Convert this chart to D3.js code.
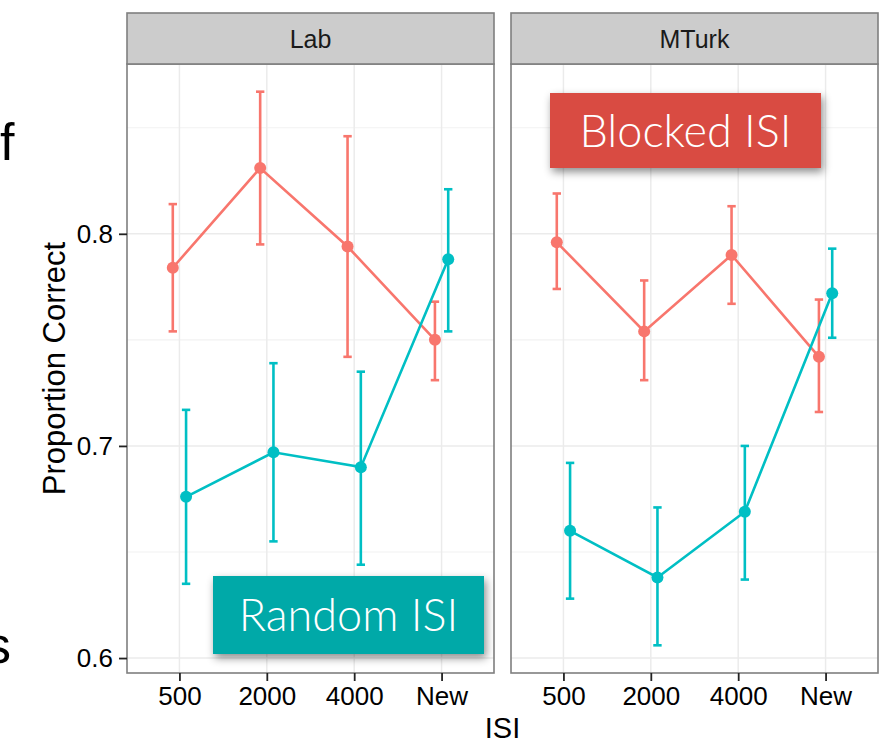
<!DOCTYPE html>
<html>
<head>
<meta charset="utf-8">
<script src="https://cdn.jsdelivr.net/npm/d3@7"></script>
<style>
  body { margin: 0; background: #fff; }
  svg text { font-family: "Liberation Sans", Arial, sans-serif; }
</style>
</head>
<body>
<script>
// categories
const isiLevels = ["500", "2000", "4000", "New"];
const facets = ["Lab", "MTurk"];
const conditions = ["Blocked", "Random"];

// means and error bar ends, one array per facet/condition
const labBlockedMean = [0.784, 0.831, 0.794, 0.750];
const labBlockedLow = [0.754, 0.795, 0.742, 0.731];
const labBlockedHigh = [0.814, 0.867, 0.846, 0.768];
const labRandomMean = [0.676, 0.697, 0.690, 0.788];
const labRandomLow = [0.635, 0.655, 0.644, 0.754];
const labRandomHigh = [0.717, 0.739, 0.735, 0.821];

const mturkBlockedMean = [0.796, 0.754, 0.790, 0.742];
const mturkBlockedLow = [0.774, 0.731, 0.767, 0.716];
const mturkBlockedHigh = [0.819, 0.778, 0.813, 0.769];
const mturkRandomMean = [0.660, 0.638, 0.669, 0.772];
const mturkRandomLow = [0.628, 0.606, 0.637, 0.751];
const mturkRandomHigh = [0.692, 0.671, 0.700, 0.793];

const yTicks = [0.6, 0.7, 0.8];
const yMinor = [0.65, 0.75, 0.85];

const colors = { Blocked: "#F8766D", Random: "#00BFC4" };

const W = 894, H = 745;
const panelTop = 64, panelBottom = 673, stripTop = 13;
const panelW = 367;
const panelLefts = [127, 511];

const build = (mean, lo, hi) => isiLevels.map((k, i) => ({ isi: k, mean: mean[i], lo: lo[i], hi: hi[i] }));
const data = {
  Lab: { Blocked: build(labBlockedMean, labBlockedLow, labBlockedHigh),
         Random: build(labRandomMean, labRandomLow, labRandomHigh) },
  MTurk: { Blocked: build(mturkBlockedMean, mturkBlockedLow, mturkBlockedHigh),
           Random: build(mturkRandomMean, mturkRandomLow, mturkRandomHigh) }
};

// y domain like ggplot: data range expanded by 5%
const allLo = d3.min([labBlockedLow, labRandomLow, mturkBlockedLow, mturkRandomLow].flat());
const allHi = d3.max([labBlockedHigh, labRandomHigh, mturkBlockedHigh, mturkRandomHigh].flat());
const pad = (allHi - allLo) * 0.05;
const y = d3.scaleLinear().domain([allLo - pad, allHi + pad]).range([panelBottom, panelTop]);

const svg = d3.select("body").append("svg")
  .attr("width", W).attr("height", H);

const defs = svg.append("defs");
const shadow = defs.append("filter").attr("id", "shadow")
  .attr("x", "-10%").attr("y", "-20%").attr("width", "130%").attr("height", "160%");
shadow.append("feDropShadow")
  .attr("dx", 2).attr("dy", 4).attr("stdDeviation", 4)
  .attr("flood-color", "#000").attr("flood-opacity", 0.45);

facets.forEach((facet, fi) => {
  const x0 = panelLefts[fi];
  const x = d3.scalePoint().domain(isiLevels).range([x0, x0 + panelW]).padding(0.6);
  const step = x.step();
  const dodge = { Blocked: -0.076 * step, Random: 0.076 * step };
  const capHalf = 0.048 * step;

  const g = svg.append("g");

  // minor grid
  g.selectAll(".minor").data(yMinor).enter().append("line")
    .attr("x1", x0).attr("x2", x0 + panelW)
    .attr("y1", d => y(d)).attr("y2", d => y(d))
    .attr("stroke", "#F2F2F2").attr("stroke-width", 1.2);
  // major grid
  g.selectAll(".majorY").data(yTicks).enter().append("line")
    .attr("x1", x0).attr("x2", x0 + panelW)
    .attr("y1", d => y(d)).attr("y2", d => y(d))
    .attr("stroke", "#EBEBEB").attr("stroke-width", 1.5);
  g.selectAll(".majorX").data(isiLevels).enter().append("line")
    .attr("x1", d => x(d)).attr("x2", d => x(d))
    .attr("y1", panelTop).attr("y2", panelBottom)
    .attr("stroke", "#EBEBEB").attr("stroke-width", 1.5);

  conditions.forEach(cond => {
    const rows = data[facet][cond];
    const col = colors[cond];
    const cx = d => x(d.isi) + dodge[cond];

    const eb = g.append("g");
    eb.selectAll("line.v").data(rows).enter().append("line")
      .attr("x1", cx).attr("x2", cx)
      .attr("y1", d => y(d.lo)).attr("y2", d => y(d.hi))
      .attr("stroke", col).attr("stroke-width", 2.6);
    eb.selectAll("line.t").data(rows).enter().append("line")
      .attr("x1", d => cx(d) - capHalf).attr("x2", d => cx(d) + capHalf)
      .attr("y1", d => y(d.hi)).attr("y2", d => y(d.hi))
      .attr("stroke", col).attr("stroke-width", 2.6);
    eb.selectAll("line.b").data(rows).enter().append("line")
      .attr("x1", d => cx(d) - capHalf).attr("x2", d => cx(d) + capHalf)
      .attr("y1", d => y(d.lo)).attr("y2", d => y(d.lo))
      .attr("stroke", col).attr("stroke-width", 2.6);

    g.append("path").datum(rows)
      .attr("fill", "none").attr("stroke", col).attr("stroke-width", 2.6)
      .attr("d", d3.line().x(cx).y(d => y(d.mean)));

    g.selectAll(null).data(rows).enter().append("circle")
      .attr("cx", cx).attr("cy", d => y(d.mean)).attr("r", 6)
      .attr("fill", col);
  });

  // panel border
  g.append("rect")
    .attr("x", x0).attr("y", panelTop).attr("width", panelW).attr("height", panelBottom - panelTop)
    .attr("fill", "none").attr("stroke", "#7F7F7F").attr("stroke-width", 1.6);

  // strip
  g.append("rect")
    .attr("x", x0).attr("y", stripTop).attr("width", panelW).attr("height", panelTop - stripTop)
    .attr("fill", "#CCCCCC").attr("stroke", "#7F7F7F").attr("stroke-width", 1.6);
  g.append("text")
    .attr("x", x0 + panelW / 2).attr("y", (stripTop + panelTop) / 2 + 9)
    .attr("text-anchor", "middle").attr("font-size", 25).attr("fill", "#1A1A1A")
    .text(facet);

  // x axis
  const xAxis = svg.append("g")
    .attr("transform", `translate(0,${panelBottom})`)
    .call(d3.axisBottom(x).tickSize(8).tickPadding(6));
  xAxis.select(".domain").remove();
  xAxis.selectAll(".tick line").attr("stroke", "#222").attr("stroke-width", 1.8);
  xAxis.selectAll(".tick text").attr("font-size", 26).attr("fill", "#000")
    .attr("font-family", "Liberation Sans, Arial, sans-serif");
});

// y axis
const yAxis = svg.append("g")
  .attr("transform", `translate(${panelLefts[0]},0)`)
  .call(d3.axisLeft(y).tickValues(yTicks).tickFormat(d3.format(".1f")).tickSize(8).tickPadding(6));
yAxis.select(".domain").remove();
yAxis.selectAll(".tick line").attr("stroke", "#222").attr("stroke-width", 1.8);
yAxis.selectAll(".tick text").attr("font-size", 26).attr("fill", "#000")
  .attr("font-family", "Liberation Sans, Arial, sans-serif");

// axis titles
svg.append("text")
  .attr("x", (panelLefts[0] + panelLefts[1] + panelW) / 2).attr("y", 738)
  .attr("text-anchor", "middle").attr("font-size", 29).attr("fill", "#000")
  .text("ISI");
svg.append("text")
  .attr("transform", `translate(65,${(panelTop + panelBottom) / 2}) rotate(-90)`)
  .attr("text-anchor", "middle").attr("font-size", 31).attr("fill", "#000")
  .text("Proportion Correct");

// label boxes
const boxes = [
  { label: "Blocked ISI", fill: "#D94B43", x: 550, y: 93, w: 271, h: 75 },
  { label: "Random ISI", fill: "#00A9A8", x: 213, y: 576, w: 271, h: 78 }
];
boxes.forEach(b => {
  svg.append("rect")
    .attr("x", b.x).attr("y", b.y).attr("width", b.w).attr("height", b.h)
    .attr("fill", b.fill).attr("filter", "url(#shadow)");
  svg.append("text")
    .attr("x", b.x + b.w / 2).attr("y", b.y + b.h / 2 + 16)
    .attr("text-anchor", "middle").attr("font-size", 45)
    .attr("font-weight", 300).attr("fill", "#fff")
    .style("font-family", "'Helvetica Neue', Lato, 'Open Sans', sans-serif")
    .text(b.label);
});

// fragments of neighbouring slide text, cut at the left edge as in the source
svg.append("text").attr("x", 0).attr("y", 160).attr("font-size", 52).attr("fill", "#000").text("f");
svg.append("text").attr("x", 11).attr("y", 663).attr("text-anchor", "end")
  .attr("font-size", 52).attr("fill", "#000").text("s");
</script>
</body>
</html>
